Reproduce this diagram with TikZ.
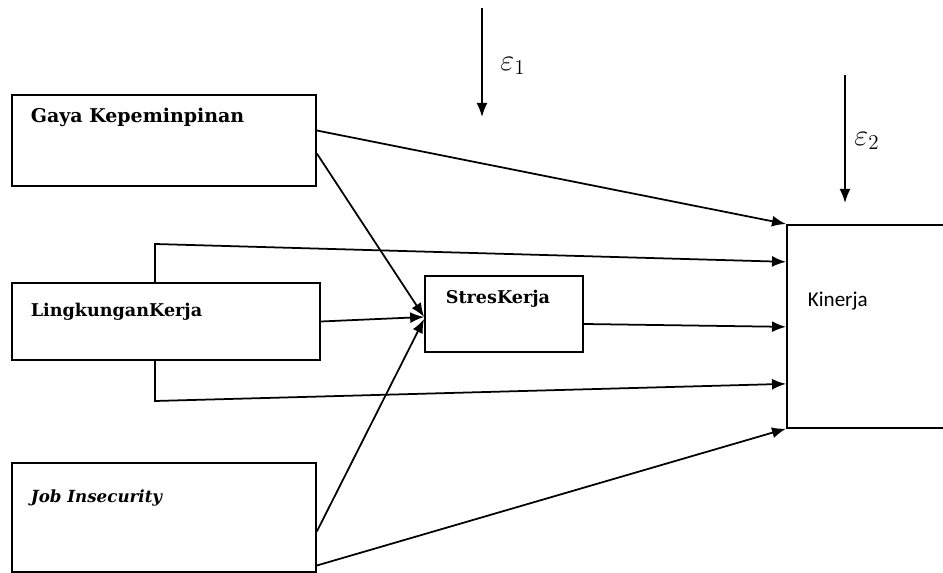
\documentclass[tikz,border=0pt]{standalone}
\usepackage{fontspec}
\setmainfont{DejaVu Serif}
\newfontfamily\kinfont{Carlito}
\usetikzlibrary{arrows.meta,calc}

\begin{document}
\begin{tikzpicture}[x=0.02cm, y=-0.02cm, >={Latex[length=2.8mm,width=2.2mm]}, line width=1pt]
   \useasboundingbox (0,0) rectangle (943,573);
   \clip (0,0) rectangle (943,573);
   \begin{scope}[every node/.style={draw, rectangle, inner sep=0pt}]
    \node (gk) at (164,140.5) [minimum width=6.08cm, minimum height=1.82cm] {};
    \node (lk) at (166,321.5) [minimum width=6.16cm, minimum height=1.54cm] {};
    \node (ji) at (164,517.5) [minimum width=6.08cm, minimum height=2.18cm] {};
    \node (sk) at (504,314) [minimum width=3.16cm, minimum height=1.52cm] {};
    \node (kin) at (786,224) [anchor=north west, minimum width=4.28cm, minimum height=4.06cm] {};
   \end{scope}
   \begin{scope}[every node/.style={anchor=west, inner sep=0pt, font=\bfseries\fontsize{10}{12}\selectfont}]
    \node (gkt) at (30,117) [font=\bfseries\fontsize{10.8}{13}\selectfont] {Gaya Kepeminpinan};
    \node (lkt) at (30,312) {LingkunganKerja};
    \node (skt) at (445,299) {StresKerja};
    \node (jit) at (30,498) [font=\bfseries\itshape\fontsize{9.5}{12}\selectfont] {Job Insecurity};
    \node (kint) at (807,301) [font=\kinfont\fontsize{12}{14}\selectfont] {Kinerja};
   \end{scope}
   \coordinate (lkup) at (155,244);
   \coordinate (lkdn) at (155,401);
   \draw[->] ($(gk.east)+(0,-10)$) -- (kin.north west);
   \draw[->] ($(gk.east)+(0,13)$) -- ($(sk.west)+(0,3)$);
   \draw[->] (lk.east) -- ($(sk.west)+(0,3)$);
   \draw[->] ($(ji.east)+(0,14)$) -- ($(sk.west)+(0,5)$);
   \draw[->] ($(ji.east)+(0,48)$) -- (kin.south west);
   \draw[->] ($(sk.east)+(0,10)$) -- ($(kin.west)+(0,0.5)$);
   \draw[->] (lk.north -| lkup) -- (lkup) -- ($(kin.west)+(0,-64.5)$);
   \draw[->] (lk.south -| lkdn) -- (lkdn) -- ($(kin.west)+(0,57.5)$);
   \coordinate (e1s) at (482,8);
   \coordinate (e1t) at (482,117);
   \coordinate (e2s) at (845,75);
   \coordinate (e2t) at (845,203);
   \draw[->] (e1s) -- (e1t);
   \draw[->] (e2s) -- (e2t);
   \node (e1) at (513,66) {\LARGE $\varepsilon_1$};
   \node (e2) at (867,141) {\LARGE $\varepsilon_2$};
\end{tikzpicture}
\end{document}
